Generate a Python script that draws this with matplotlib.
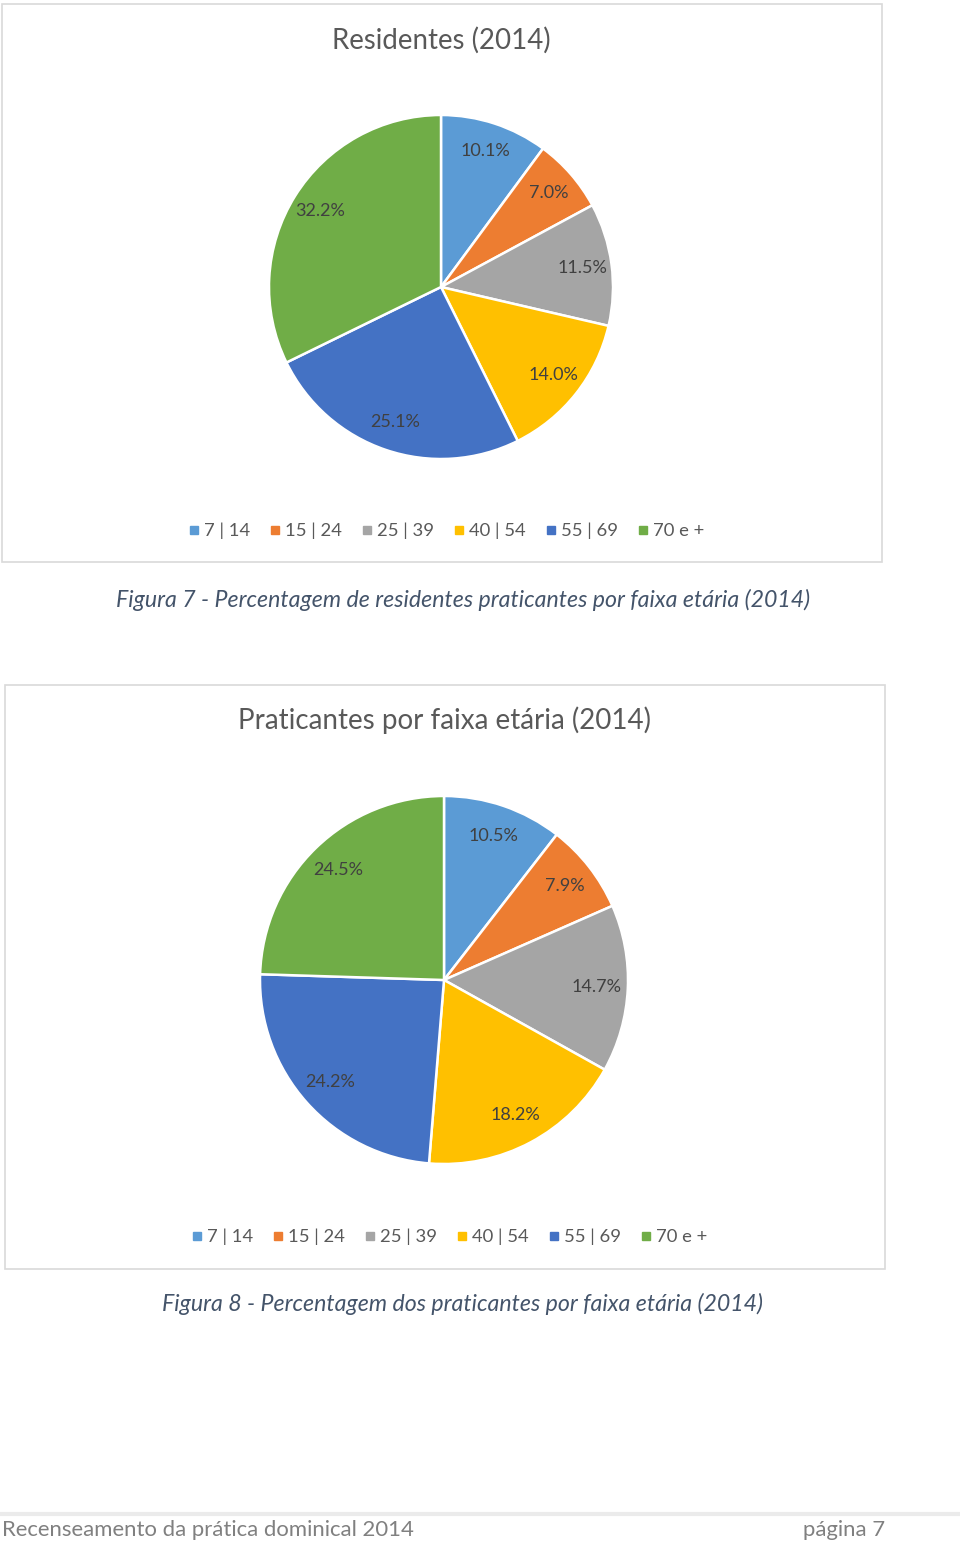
# two Excel-style pie charts with captions and page footer

import numpy as np
import matplotlib.pyplot as plt
from matplotlib.patches import Rectangle
from matplotlib.lines import Line2D

W, H = 960, 1544

age_groups = ['7 | 14', '15 | 24', '25 | 39', '40 | 54', '55 | 69', '70 e +']
residentes = [10.1, 7.0, 11.5, 14.0, 25.1, 32.2]
praticantes = [10.5, 7.9, 14.7, 18.2, 24.2, 24.5]
colors = ['#5B9BD5', '#ED7D31', '#A5A5A5', '#FFC000', '#4472C4', '#70AD47']

title1 = 'Residentes (2014)'
title2 = 'Praticantes por faixa etária (2014)'
caption1 = 'Figura 7 - Percentagem de residentes praticantes por faixa etária (2014)'
caption2 = 'Figura 8 - Percentagem dos praticantes por faixa etária (2014)'
footer_left = 'Recenseamento da prática dominical 2014'
footer_right = 'página 7'

plt.rcParams['font.family'] = ['Lato', 'DejaVu Sans']

fig = plt.figure(figsize=(W / 100, H / 100), dpi=100)


def fx(x):
    return x / W


def fy(y):
    return 1 - y / H


def box(x0, y0, x1, y1):
    fig.add_artist(Rectangle((fx(x0), fy(y1)), fx(x1 - x0), (y1 - y0) / H,
                             transform=fig.transFigure, fill=False,
                             edgecolor='#D9D9D9', lw=1.2))


def pie_chart(values, cx, cy, r, pctd):
    ax = fig.add_axes([fx(cx - r), fy(cy + r), 2 * r / W, 2 * r / H])
    wedges, _ = ax.pie(values, colors=colors, startangle=90, counterclock=False,
                       wedgeprops=dict(edgecolor='white', linewidth=1.8))
    for w, v in zip(wedges, values):
        ang = np.deg2rad((w.theta1 + w.theta2) / 2)
        ax.text(pctd * np.cos(ang), pctd * np.sin(ang), '{:.1f}%'.format(v),
                ha='center', va='center', fontsize=13, color='#404040')
    ax.set_xlim(-1, 1)
    ax.set_ylim(-1, 1)
    ax.set_aspect('equal')
    ax.axis('off')


def legend(cx, cy):
    handles = [Line2D([], [], marker='s', ls='', color=c, markersize=5.5) for c in colors]
    fig.legend(handles, age_groups, loc='center', bbox_to_anchor=(fx(cx), fy(cy)),
               ncol=6, frameon=False, handlelength=0.6, handletextpad=0.25,
               columnspacing=1.05, fontsize=13.3, labelcolor='#595959')


# chart 1
box(2, 4, 882, 562)
fig.text(fx(441), fy(40), title1, ha='center', va='center', fontsize=19.9, color='#595959')
pie_chart(residentes, 441, 287, 172, 0.83)
legend(446, 531)
fig.text(fx(463), fy(600), caption1, ha='center', va='center', fontsize=16.7,
         style='italic', color='#44546A')

# chart 2
box(5, 685, 885, 1269)
fig.text(fx(445), fy(720), title2, ha='center', va='center', fontsize=20, color='#595959')
pie_chart(praticantes, 444, 980, 184, 0.83)
legend(449, 1237)
fig.text(fx(463), fy(1304), caption2, ha='center', va='center', fontsize=16.7,
         style='italic', color='#44546A')

# footer
fig.add_artist(Line2D([0, 1], [fy(1514), fy(1514)], transform=fig.transFigure,
                      color='#EBEBEB', lw=3))
fig.text(fx(2), fy(1530), footer_left, ha='left', va='center', fontsize=15.9, color='#808080')
fig.text(fx(885), fy(1530), footer_right, ha='right', va='center', fontsize=15.9, color='#808080')

fig.savefig('out.png', dpi=100, facecolor='white')
